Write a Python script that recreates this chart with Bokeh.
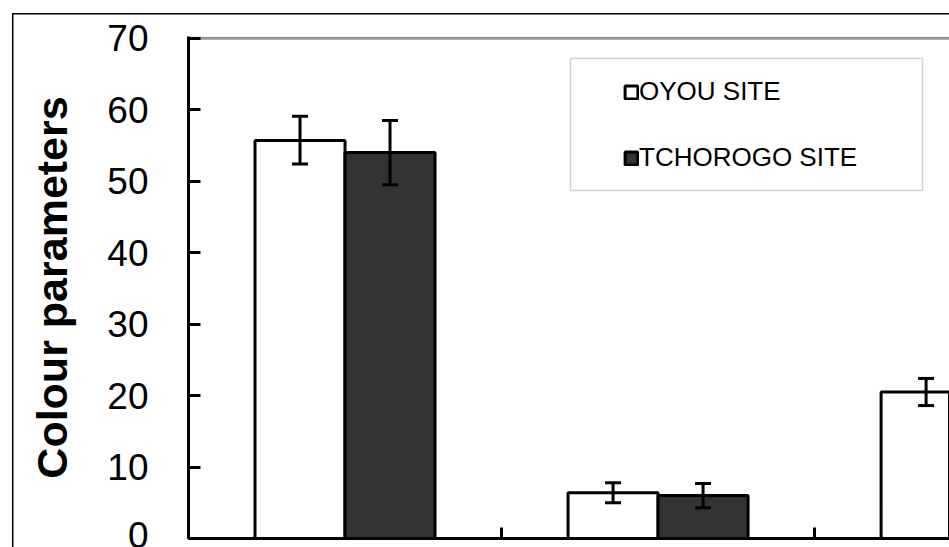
from bokeh.plotting import figure
from bokeh.models import (Range1d, FixedTicker, Span, Whisker, TeeHead, ColumnDataSource,
                          Legend, LegendItem, BoxAnnotation)
from bokeh.embed import file_html
from bokeh.resources import INLINE

# ---- data ----
categories = ["L*", "a*", "b*"]
oyou_mean = [55.7, 6.4, 20.5]
oyou_low = [52.4, 5.0, 18.6]
oyou_high = [59.1, 7.8, 22.4]
tchorogo_mean = [54.0, 6.0]          # third value is outside the visible crop
tchorogo_low = [49.5, 4.3]
tchorogo_high = [58.5, 7.7]
y_ticks = [0, 10, 20, 30, 40, 50, 60, 70]

BAR_W = 0.2875
FONT = "Liberation Sans"

oyou_x = [i + 0.5 - BAR_W / 2 for i in range(len(oyou_mean))]
tch_x = [i + 0.5 + BAR_W / 2 for i in range(len(tchorogo_mean))]

src_o = ColumnDataSource(dict(x=oyou_x, top=oyou_mean, lo=oyou_low, hi=oyou_high))
src_t = ColumnDataSource(dict(x=tch_x, top=tchorogo_mean, lo=tchorogo_low, hi=tchorogo_high))

p = figure(width=949, height=547, output_backend="svg", toolbar_location=None,
           x_range=Range1d(0, 2.431), y_range=Range1d(0, 70.25),
           min_border_left=188, min_border_top=36, min_border_right=0, min_border_bottom=9)
p.outline_line_color = None
p.xgrid.visible = False
p.ygrid.visible = False
p.background_fill_color = "white"
p.border_fill_alpha = 0
# outer chart-area border (left and top edges visible in the crop)
p.styles = {"box-shadow": "inset 12px 13px 0 0 white, inset 13.5px 14.5px 0 0 black",
            "background-color": "white"}

# plot-area top border (gray)
p.add_layout(Span(location=70, dimension="width", line_color="#939393", line_width=3, level="underlay"))

r_o = p.vbar(x="x", top="top", width=BAR_W, bottom=0, source=src_o,
             fill_color="white", line_color="black", line_width=3)
r_t = p.vbar(x="x", top="top", width=BAR_W, bottom=0, source=src_t,
             fill_color="#333333", line_color="black", line_width=3)

for src in (src_o, src_t):
    w = Whisker(base="x", upper="hi", lower="lo", source=src, dimension="height",
                line_color="black", line_width=3, level="overlay",
                upper_head=TeeHead(size=16, line_width=3, line_color="black"),
                lower_head=TeeHead(size=16, line_width=3, line_color="black"))
    p.add_layout(w)

# y axis
ya = p.yaxis[0]
ya.ticker = FixedTicker(ticks=y_ticks)
ya.axis_line_width = 3
ya.major_tick_line_width = 3
ya.major_tick_in = 12
ya.major_tick_out = 0
ya.minor_tick_line_color = None
ya.major_label_standoff = 40
ya.major_label_text_font = FONT
ya.major_label_text_font_size = "37px"
ya.major_label_text_color = "black"
ya.axis_label = "Colour parameters"
ya.axis_label_text_font = FONT
ya.axis_label_text_font_style = "bold"
ya.axis_label_text_font_size = "43px"
ya.axis_label_text_color = "black"
ya.axis_label_standoff = 28

# x axis (category labels are below the visible crop)
xa = p.xaxis[0]
xa.ticker = FixedTicker(ticks=[0, 1, 2, 3])
xa.major_label_overrides = {0: "", 1: "", 2: "", 3: ""}
xa.axis_line_width = 3
xa.major_tick_line_width = 3
xa.major_tick_in = 11
xa.major_tick_out = 0
xa.minor_tick_line_color = None
xa.major_label_text_font_size = "1px"
xa.major_label_standoff = 0

# legend frame
p.add_layout(BoxAnnotation(left=382, right=734, top=480, bottom=348,
                           left_units="screen", right_units="screen",
                           top_units="screen", bottom_units="screen",
                           fill_color="white", fill_alpha=1, line_color="#6e6e6e", line_width=1.5,
                           level="annotation"))

legend = Legend(items=[LegendItem(label="OYOU SITE", renderers=[r_o]),
                       LegendItem(label="TCHOROGO SITE", renderers=[r_t])],
                location=(435, 365), orientation="vertical",
                glyph_width=16, glyph_height=16, label_standoff=0,
                label_height=30, spacing=35, padding=10, margin=0,
                label_text_font=FONT, label_text_font_size="26px", label_text_color="black",
                border_line_color=None, background_fill_alpha=0)
p.add_layout(legend)

open("out.html", "w").write(file_html(p, INLINE))
